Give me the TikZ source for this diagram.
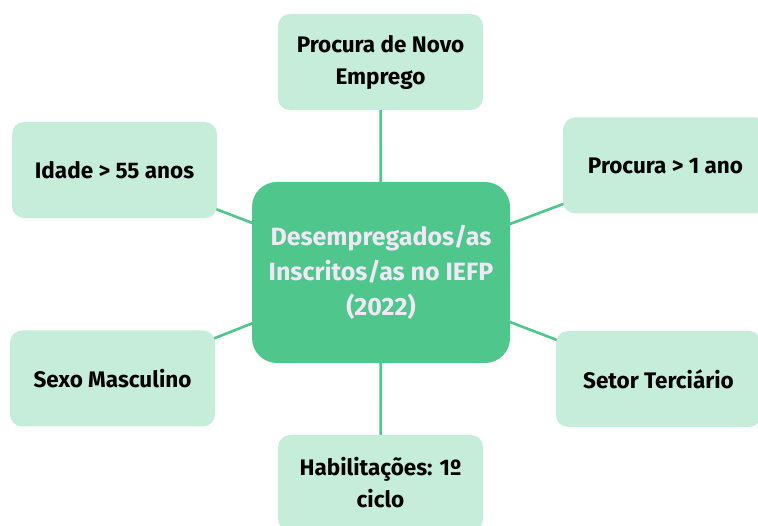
\documentclass[tikz,border=0pt]{standalone}
\usepackage{fontspec}
\setmainfont{Fira Sans}
\usetikzlibrary{backgrounds}

\definecolor{hubgreen}{HTML}{4FC68C}
\definecolor{leafgreen}{HTML}{C6EDD9}
\definecolor{hubtext}{HTML}{F0E8F6}

\tikzset{
    hub/.style={fill=hubgreen, rounded corners=25pt, minimum width=258pt, minimum height=181pt,
        text=hubtext, font=\fontsize{25}{35}\selectfont\bfseries, align=center},
    leaf/.style={fill=leafgreen, rounded corners=12pt, minimum width=205pt, minimum height=96pt,
        text=black, font=\fontsize{22.5}{32}\selectfont\bfseries, align=center},
    spoke/.style={draw=hubgreen, line width=2.6pt}
}

\begin{document}
\begin{tikzpicture}[x=1pt, y=-1pt]
    \useasboundingbox (0,0) rectangle (758,526);

    \node[hub] (hub) at (381,272.5) {Desempregados/as\\Inscritos/as no IEFP\\(2022)};

    \node[leaf] (novo) at (380.5,62) {Procura de Novo\\Emprego};
    \node[leaf] (idade) at (114.5,170) {Idade > 55 anos};
    \node[leaf] (procura) at (665.5,165.5) {Procura > 1 ano};
    \node[leaf] (sexo) at (112.5,378.5) {Sexo Masculino};
    \node[leaf] (setor) at (658.5,379) {Setor Terciário};
    \node[leaf] (habil) at (380.5,483) {Habilitações: 1º\\ciclo};

    % spokes behind the boxes
    \begin{pgfonlayer}{background}
        \draw[spoke] (hub.center) -- (novo.center);
        \draw[spoke] (hub.center) -- (idade.center);
        \draw[spoke] (hub.center) -- (procura.center);
        \draw[spoke] (hub.center) -- (sexo.center);
        \draw[spoke] (hub.center) -- (setor.center);
        \draw[spoke] (hub.center) -- (habil.center);
    \end{pgfonlayer}
\end{tikzpicture}
\end{document}
